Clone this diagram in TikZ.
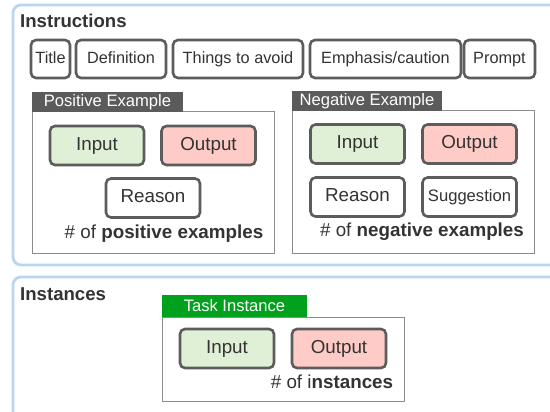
\documentclass[tikz,border=0pt]{standalone}
\usepackage{fontspec}
\setmainfont{Liberation Sans}
\usepackage{tikz}
\definecolor{framecol}{HTML}{B7D7F0}
\definecolor{boxline}{HTML}{5C5C5C}
\definecolor{inputcol}{HTML}{E0F0D6}
\definecolor{outputcol}{HTML}{FFCBC6}
\definecolor{textcol}{HTML}{333333}
\definecolor{bargray}{HTML}{5B5B5B}
\definecolor{bargreen}{HTML}{00A11C}
\tikzstyle{frame}=[draw=framecol,line width=2.8pt,rounded corners=8pt]
\tikzstyle{fieldbox}=[draw=boxline,fill=white,line width=2.6pt,rounded corners=5pt,
                      inner sep=0pt,text=textcol,text height=11.5pt,text depth=3pt]
\tikzstyle{smallbox}=[fieldbox,font=\fontsize{16.3}{18}\selectfont,minimum height=38pt]
\tikzstyle{bigbox}=[fieldbox,font=\fontsize{18.8}{21}\selectfont,text height=13.5pt,
                    text depth=4pt,minimum width=94pt,minimum height=39pt]
\tikzstyle{inbox}=[bigbox,fill=inputcol]
\tikzstyle{outbox}=[bigbox,fill=outputcol]
\tikzstyle{groupbox}=[draw=gray!90,line width=1pt]
\tikzstyle{bar}=[inner sep=0pt,text=white,font=\fontsize{16.6}{18}\selectfont]
\tikzstyle{heading}=[anchor=base west,inner sep=0pt,text=textcol,
                     font=\bfseries\fontsize{18.6}{20}\selectfont]
\tikzstyle{count}=[inner sep=0pt,text=textcol,font=\fontsize{18.8}{21}\selectfont]

\begin{document}
\begin{tikzpicture}[x=1pt,y=-1pt]
    \useasboundingbox (0,0) rectangle (550,412);
    \clip (0,0) rectangle (550,412);
    % outer frames
    \draw[frame] (13,5) rectangle (575,265);
    \draw[frame] (13,277) rectangle (575,440);
    \node (h1) at (20,28) [heading]{Instructions};
    \node (h2) at (20,300) [heading]{Instances};
    % instruction fields
    \node (t1) at (50.5,59) [smallbox,minimum width=39pt]{Title};
    \node (t2) at (121,59) [smallbox,minimum width=90pt]{Definition};
    \node (t3) at (238,59) [smallbox,minimum width=130pt]{Things to avoid};
    \node (t4) at (385.5,59) [smallbox,minimum width=151pt]{Emphasis/caution};
    \node (t5) at (499.5,59) [smallbox,minimum width=71pt]{Prompt};
    % positive example
    \draw[groupbox] (32,112) rectangle (274,253);
    \fill[bargray] (32,92) rectangle (183,112);
    \node (pl) at (107.5,102) [bar]{Positive Example};
    \node (p1) at (97,145.5) [inbox]{Input};
    \node (p2) at (208.5,145.5) [outbox]{Output};
    \node (p3) at (153,198) [bigbox]{Reason};
    \node (pc) at (164,234) [count]{\# of \textbf{positive examples}};
    % negative example
    \draw[groupbox] (292,111) rectangle (534,253);
    \fill[bargray] (292,91) rectangle (442,111);
    \node (nl) at (367,101) [bar]{Negative Example};
    \node (n1) at (357.5,144) [inbox]{Input};
    \node (n2) at (469.5,144) [outbox]{Output};
    \node (n3) at (357.5,197) [bigbox]{Reason};
    \node (n4) at (469.5,197) [bigbox,font=\fontsize{16.6}{18}\selectfont]{Suggestion};
    \node (nc) at (422,232) [count]{\# of \textbf{negative examples}};
    % task instance
    \draw[groupbox] (162,317) rectangle (404,401);
    \fill[bargreen] (162,295) rectangle (307,317);
    \node (il) at (234.5,306) [bar]{Task Instance};
    \node (i1) at (227,348.5) [inbox]{Input};
    \node (i2) at (339,348.5) [outbox]{Output};
    \node (ic) at (332,382) [count]{\# of i\textbf{nstances}};
  \end{tikzpicture}
\end{document}
